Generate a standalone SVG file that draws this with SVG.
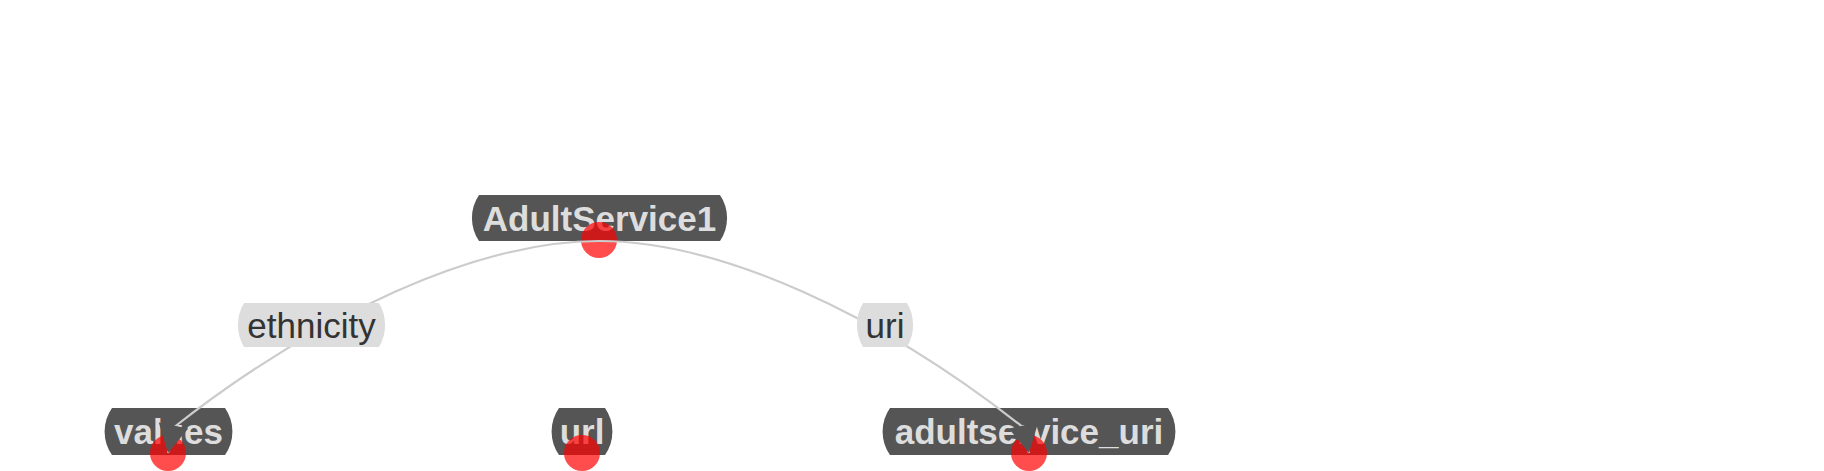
<svg xmlns="http://www.w3.org/2000/svg" width="1824" height="471" viewBox="0 0 1824 471">
<style>
.box{fill:#555;}
.ntxt{fill:#ddd;font-family:"Liberation Sans",Arial,sans-serif;font-weight:bold;font-size:35px;text-anchor:middle;}
.anchor{fill:#ff0000;opacity:0.7;}
.edge{fill:none;stroke:#ccc;stroke-width:2.2;marker-end:url(#arrow);}
.lbl{fill:#ddd;}
.ltxt{fill:#333;font-family:"Liberation Sans",Arial,sans-serif;font-size:35px;text-anchor:middle;}
</style>
<defs>
<marker id="arrow" viewBox="0 -16 28 32" refX="28" refY="0" markerWidth="28" markerHeight="32" markerUnits="userSpaceOnUse" orient="auto" overflow="visible">
<path d="M0,-15L28,0L0,15Z" fill="#555"/>
</marker>
</defs>
<rect width="1824" height="471" fill="#fff"/>
<g id="node-AdultService1">
<path class="box" d="M479,195H720A41,41 0 0 1 720,241H479A41,41 0 0 1 479,195Z"/>
<text class="ntxt" x="599.5" y="230.5">AdultService1</text>
<circle class="anchor" cx="599" cy="240" r="18"/>
</g>
<g id="node-values">
<path class="box" d="M112,408H225A41,41 0 0 1 225,455H112A41,41 0 0 1 112,408Z"/>
<text class="ntxt" x="168.5" y="444">values</text>
<circle class="anchor" cx="168" cy="453" r="18"/>
</g>
<g id="node-url">
<path class="box" d="M559,408H605A41,41 0 0 1 605,455H559A41,41 0 0 1 559,408Z"/>
<text class="ntxt" x="582" y="444">url</text>
<circle class="anchor" cx="582" cy="453" r="18"/>
</g>
<g id="node-adultservice_uri">
<path class="box" d="M890,408H1168A41,41 0 0 1 1168,455H890A41,41 0 0 1 890,408Z"/>
<text class="ntxt" x="1029" y="444">adultservice_uri</text>
<circle class="anchor" cx="1029" cy="453" r="18"/>
</g>
<g id="connectors">
<path class="edge" d="M599,241C478,241 318,314 173,428L168,453"/>
<path class="edge" d="M599,241C720,241 880,314 1024,428L1029,453"/>
<g id="label-ethnicity">
<path class="lbl" d="M244,303H379A43,43 0 0 1 379,347H244A43,43 0 0 1 244,303Z"/>
<text class="ltxt" x="311.5" y="337.5">ethnicity</text>
</g>
<g id="label-uri">
<path class="lbl" d="M863,303H907A43,43 0 0 1 907,347H863A43,43 0 0 1 863,303Z"/>
<text class="ltxt" x="885" y="337.5">uri</text>
</g>
</g>
</svg>
